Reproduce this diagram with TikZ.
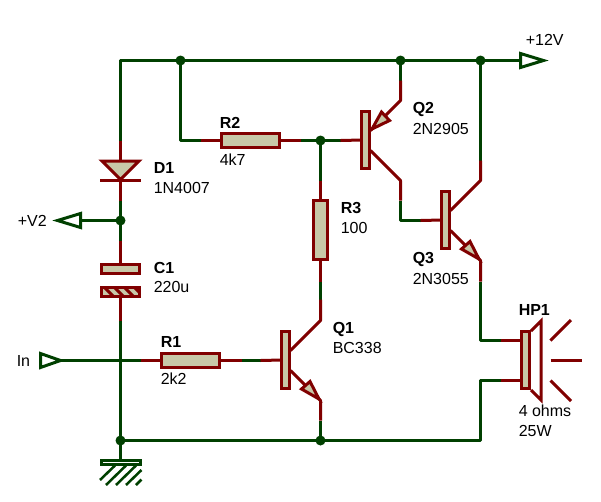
\documentclass[tikz,border=0pt]{standalone}
\usepackage{fontspec}
\setmainfont{Liberation Sans}
\definecolor{wgreen}{RGB}{0,64,0}
\definecolor{cred}{RGB}{128,0,0}
\definecolor{cfill}{RGB}{200,200,168}
\tikzset{
  wg/.style={draw=wgreen,line width=2.25pt,line join=round},
  wr/.style={draw=cred,line width=2.25pt,line join=round},
  body/.style={draw=cred,fill=cfill,line width=2.25pt,rectangle,inner sep=0pt,outer sep=0pt},
  junction/.style={circle,fill=wgreen,draw=none,minimum size=7.5pt,inner sep=0pt},
  term/.style={draw=wgreen,fill=white,line width=2.25pt,line join=miter},
  hatchline/.style={draw=wgreen,line width=1.9pt},
  refl/.style={anchor=base west,inner sep=0pt,font=\fontsize{12pt}{12pt}\selectfont\bfseries},
  vall/.style={anchor=base west,inner sep=0pt,font=\fontsize{12pt}{12pt}\selectfont},
  arrowbody/.style={draw=cred,fill=cfill,line width=2.25pt,line join=miter}
}
\begin{document}
\begin{tikzpicture}[x=0.75pt,y=-0.75pt]
\useasboundingbox (-0.5,-0.5) rectangle (600.5,500.5);
% component bodies
\node[body,minimum width=43.5pt,minimum height=10.5pt] (R1) at (190,360) {};
\node[body,minimum width=43.5pt,minimum height=10.5pt] (R2) at (250,140) {};
\node[body,minimum width=10.5pt,minimum height=44.25pt] (R3) at (320,229.5) {};
\node[body,minimum width=6pt,minimum height=42.75pt] (Q1) at (285,359.5) {};
\node[body,minimum width=6pt,minimum height=42.75pt] (Q2) at (365,139.5) {};
\node[body,minimum width=6pt,minimum height=42.75pt] (Q3) at (445,219.5) {};
\node[body,minimum width=6pt,minimum height=42.75pt] (HP) at (525,359.5) {};
\node[body,minimum width=28.5pt,minimum height=6.75pt] (C1a) at (120,268.5) {};
\node[body,minimum width=28.5pt,minimum height=6.75pt] (C1b) at (120,291) {};
% named wire points
\coordinate (tl) at (120,60);
\coordinate (d1a) at (120,140);
\coordinate (d1t) at (120,160);
\coordinate (d1k) at (120,180);
\coordinate (d1b) at (120,200);
\coordinate (c1t) at (120,240);
\coordinate (c1m) at (120,320);
\coordinate (gt) at (120,459);
\coordinate (r2c) at (180,140);
\coordinate (r2g) at (200,140);
\coordinate (r2o) at (300,140);
\coordinate (q2g) at (340,140);
\coordinate (r3g) at (320,180);
\coordinate (r3d) at (320,281);
\coordinate (r3e) at (320,299);
\coordinate (q1c) at (320,320);
\coordinate (q1ci) at (290,350);
\coordinate (q1ei) at (290,370);
\coordinate (q1e) at (320,400);
\coordinate (q1f) at (320,420);
\coordinate (r1g) at (241,360);
\coordinate (q1g) at (260,360);
\coordinate (ing) at (140,360);
\coordinate (q2e) at (400,100);
\coordinate (q2f) at (400,80);
\coordinate (q2ei) at (370,130);
\coordinate (q2ci) at (370,150);
\coordinate (q2c) at (400,180);
\coordinate (q2d) at (400,200);
\coordinate (q3bc) at (400,220);
\coordinate (q3g) at (420,220);
\coordinate (q3ci) at (450,210);
\coordinate (q3c) at (480,180);
\coordinate (q3d) at (480,160);
\coordinate (q3ei) at (450,230);
\coordinate (q3e) at (480,260);
\coordinate (q3f) at (480,281);
\coordinate (hpa) at (480,340);
\coordinate (hpag) at (500,340);
\coordinate (hpb) at (480,380);
\coordinate (hpbg) at (500,380);
\coordinate (bot) at (480,440);
% junctions
\node[junction] (J1) at (180,60) {};
\node[junction] (J2) at (400,60) {};
\node[junction] (J3) at (480,60) {};
\node[junction] (J4) at (320,140) {};
\node[junction] (J5) at (120,220) {};
\node[junction] (J6) at (120,440) {};
\node[junction] (J7) at (320,440) {};
% terminals
\node[inner sep=0pt] (T12) at (520,60) {};
\node[inner sep=0pt] (TV2) at (80,220) {};
\node[inner sep=0pt] (TIN) at (60,360) {};
% green wires
\draw[wg] (d1a) -- (tl) -- (J1.center) -- (J2.center) -- (J3.center) -- (T12);
\draw[wg] (J1.center) -- (r2c) -- (r2g);
\draw[wg] (r2o) -- (J4.center) -- (q2g);
\draw[wg] (J4.center) -- (r3g);
\draw[wg] (r3d) -- (r3e);
\draw[wg] (r1g) -- (q1g);
\draw[wg] (d1b) -- (J5.center) -- (c1t);
\draw[wg] (TV2) -- (J5.center);
\draw[wg] (TIN) -- (ing);
\draw[wg] (c1m) -- (J6.center) -- (gt);
\draw[wg] (J6.center) -- (J7.center) -- (bot) -- (hpb) -- (hpbg);
\draw[wg] (J7.center) -- (q1f);
\draw[wg] (J2.center) -- (q2f);
\draw[wg] (J3.center) -- (q3d);
\draw[wg] (q2d) -- (q3bc) -- (q3g);
\draw[wg] (q3f) -- (hpa) -- (hpag);
% red pins
\draw[wr] (d1a) -- (d1t);
\draw[wr] (d1k) -- (d1b);
\draw[wr] (c1t) -- (C1a.north);
\draw[wr] (C1b.south) -- (c1m);
\draw[wr] (ing) -- (R1.west);
\draw[wr] (R1.east) -- (r1g);
\draw[wr] (q1g) -- (Q1.west);
\draw[wr] (r2g) -- (R2.west);
\draw[wr] (R2.east) -- (r2o);
\draw[wr] (q2g) -- (Q2.west);
\draw[wr] (r3g) -- (R3.north);
\draw[wr] (R3.south) -- (r3d);
\draw[wr] (r3e) -- (q1c) -- (q1ci);
\draw[wr] (q1ei) -- (q1e) -- (q1f);
\draw[wr] (q2f) -- (q2e) -- (q2ei);
\draw[wr] (q2ci) -- (q2c) -- (q2d);
\draw[wr] (q3g) -- (Q3.west);
\draw[wr] (q3d) -- (q3c) -- (q3ci);
\draw[wr] (q3ei) -- (q3e) -- (q3f);
\draw[wr] (hpag) -- (HP.west |- hpag);
\draw[wr] (hpbg) -- (HP.west |- hpbg);
% transistor arrows
\draw[arrowbody] (318.5,398.5) -- (301,388.5) -- (309.5,381) -- cycle;
\draw[arrowbody] (371.5,128.5) -- (381,111.5) -- (389,120) -- cycle;
\draw[arrowbody] (478.5,258.5) -- (461,248.5) -- (469.5,241) -- cycle;
% diode
\draw[arrowbody] (101.5,160.5) -- (138.5,160.5) -- (120,179) -- cycle;
\draw[wr] (99.5,180) -- (140.5,180);
% capacitor stripes
\begin{scope}
\clip (C1b.south west) rectangle (C1b.north east);
\foreach \sx in {103.5,113.5,123.5,133.5}{
  \draw[draw=cred,line width=2.2pt] (\sx,286.5) -- (\sx+9,295.5);
}
\end{scope}
\draw[draw=cred,line width=2.25pt] (C1b.south west) rectangle (C1b.north east);
% speaker
\draw[wr,line join=miter] (530.5,330.5) -- (540.5,320.5) -- (540.5,399.5) -- (530.5,389.5);
\coordinate (ra1) at (550,340); \coordinate (ra2) at (570.5,319.5);
\coordinate (rb1) at (550,360); \coordinate (rb2) at (581,360);
\coordinate (rc1) at (550,380); \coordinate (rc2) at (570.5,400.5);
\draw[wr] (ra1) -- (ra2);
\draw[wr] (rb1) -- (rb2);
\draw[wr] (rc1) -- (rc2);
% ground
\draw[draw=wgreen,fill=white,line width=2.25pt] (100.5,460) rectangle (140,464);
\foreach \ax/\ay/\bx/\by in {99.5/479.5/114.5/465,105.5/484.5/125.5/465,115.5/484.5/135.5/465,125.5/484.5/141/469.5,135.5/484.5/141/479}{
  \draw[hatchline] (\ax,\ay) -- (\bx,\by);
}
% terminals
\draw[term] (T12.center) ++(0,-7) -- ++(23,7) -- ++(-23,7) -- cycle;
\draw[term] (TV2.center) ++(0,-7) -- ++(-23,7) -- ++(23,7) -- cycle;
\draw[term] (TIN.center) ++(-20,-7) -- ++(20,7) -- ++(-20,7) -- cycle;
% labels
\node[vall] (tA) at (525,45) {+12V};
\node[vall] (tB) at (17,226) {+V2};
\node[vall] (tC) at (16,366) {In};
\node[refl] (lD) at (153,173) {D1};
\node[vall] (vD) at (153,193) {1N4007};
\node[refl] (lC) at (153,273) {C1};
\node[vall] (vC) at (153,292) {220u};
\node[refl] (lR1) at (160,347) {R1};
\node[vall] (vR1) at (160,384) {2k2};
\node[refl] (lR2) at (219,128) {R2};
\node[vall] (vR2) at (219,165) {4k7};
\node[refl] (lR3) at (340,213) {R3};
\node[vall] (vR3) at (340,233) {100};
\node[refl] (lQ1) at (332,333) {Q1};
\node[vall] (vQ1) at (332,353) {BC338};
\node[refl] (lQ2) at (412,113) {Q2};
\node[vall] (vQ2) at (412,134) {2N2905};
\node[refl] (lQ3) at (412,263) {Q3};
\node[vall] (vQ3) at (412,284) {2N3055};
\node[refl] (lH) at (518,315) {HP1};
\node[vall] (vH) at (518,416) {4 ohms};
\node[vall] (vH2) at (518,436) {25W};
\end{tikzpicture}
\end{document}
